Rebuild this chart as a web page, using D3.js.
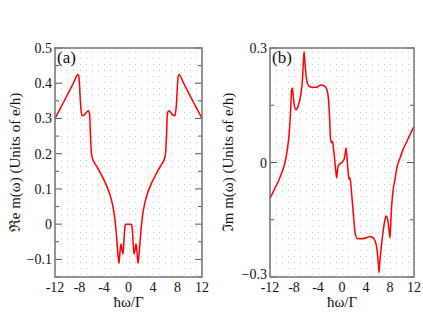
<!DOCTYPE html>
<html>
<head>
<meta charset="utf-8">
<script src="https://cdn.jsdelivr.net/npm/d3@7"></script>
<style>
  body { margin: 0; background: #fff; }
  svg text { font-family: "Liberation Serif", "Times New Roman", "DejaVu Serif", serif; fill: #111; }
  .curve { fill: none; stroke: #ff0000; stroke-width: 1.5; }
  .grid line { stroke: #c8c8c8; stroke-width: 1; stroke-dasharray: 1,5; }
  .frame { fill: none; stroke: #7a7a7a; stroke-width: 1.6; }
  .tick { stroke: #555; stroke-width: 1; }
</style>
</head>
<body>
<div id="chart"></div>
<script>
// panel (a): real part
var aX = [-12, -11, -10, -9, -8.25, -8.1, -7.8, -7.6, -7.3, -6.9, -6.55, -6.35, -6.2, -6.05, -5.85,
  -5.4, -4.8, -4.2, -3.6, -3.0, -2.6, -2.3, -2.0, -1.7, -1.55, -1.35, -1.22, -1.05, -0.9, -0.75,
  -0.6, -0.45, 0,
  0.45, 0.6, 0.75, 0.9, 1.05, 1.22, 1.35, 1.55, 1.7, 2.0, 2.3, 2.6, 3.0, 3.6, 4.2, 4.8, 5.4,
  5.85, 6.05, 6.2, 6.35, 6.55, 6.9, 7.3, 7.6, 7.8, 8.1, 8.25, 9, 10, 11, 12];
var aY = [0.300, 0.333, 0.366, 0.400, 0.425, 0.418, 0.335, 0.308, 0.309, 0.317, 0.322, 0.312, 0.25, 0.2, 0.185,
  0.170, 0.152, 0.132, 0.110, 0.082, 0.055, 0.025, -0.025, -0.09, -0.111, -0.07, -0.056, -0.075, -0.085, -0.05,
  -0.01, 0.0, 0.0,
  0.0, -0.01, -0.05, -0.085, -0.075, -0.056, -0.07, -0.111, -0.09, -0.025, 0.025, 0.055, 0.082, 0.110, 0.132, 0.152, 0.170,
  0.185, 0.2, 0.25, 0.312, 0.322, 0.317, 0.309, 0.308, 0.335, 0.418, 0.425, 0.400, 0.366, 0.333, 0.300];

// panel (b): imaginary part
var bX = [-12, -11.2, -10.6, -10, -9.5, -9.1, -8.8, -8.55, -8.4, -8.28, -8.1, -7.9, -7.67, -7.3, -6.9,
  -6.6, -6.45, -6.32, -6.2, -5.9, -5.5, -5, -4.3, -3.5, -2.9, -2.5, -2.25, -2.05, -1.9, -1.7,
  -1.55, -1.45, -1.33, -1.15, -1.0, -0.9, -0.75, -0.6, -0.3, -0.05, 0.33, 0.55, 0.67, 0.8, 0.9,
  1.05, 1.2, 1.3, 1.45, 1.6, 1.78, 2.0, 2.17, 2.4, 2.6, 3.2, 4.1, 4.6, 5.0, 5.5,
  5.75, 5.95, 6.1, 6.17, 6.3, 6.45, 6.7, 6.9, 7.1, 7.33, 7.6, 7.8, 8.0, 8.1, 8.28,
  8.5, 8.83, 9.2, 9.67, 10.2, 10.8, 11.4, 12];
var bY = [-0.094, -0.068, -0.049, -0.025, 0.0, 0.035, 0.077, 0.14, 0.19, 0.195, 0.17, 0.145, 0.138, 0.148, 0.175,
  0.215, 0.26, 0.29, 0.265, 0.217, 0.2, 0.197, 0.197, 0.203, 0.2, 0.19, 0.165, 0.11, 0.06, 0.052,
  0.055, 0.04, 0.025, -0.005, -0.027, -0.04, -0.02, -0.008, -0.003, 0.0, 0.008, 0.025, 0.038, 0.02, 0.0,
  -0.03, -0.044, -0.04, -0.053, -0.08, -0.114, -0.155, -0.183, -0.196, -0.2, -0.2, -0.197, -0.194, -0.195, -0.205,
  -0.22, -0.245, -0.275, -0.288, -0.26, -0.236, -0.2, -0.175, -0.155, -0.14, -0.149, -0.17, -0.197, -0.17, -0.114,
  -0.075, -0.044, -0.01, 0.012, 0.035, 0.055, 0.075, 0.095];

var xTicks = [-12, -8, -4, 0, 4, 8, 12];
var aYTicks = [-0.1, 0, 0.1, 0.2, 0.3, 0.4, 0.5];
var aYMinor = [-0.15, -0.05, 0.05, 0.15, 0.25, 0.35, 0.45];
var bYTicks = [-0.3, 0, 0.3];
var bYMinor = [-0.15, 0.15];

var viewBox = {width: 423, height: 327};

var svg = d3.select("#chart")
  .append("svg")
  .attr("width", viewBox.width)
  .attr("height", viewBox.height);

function panel(opt){
  var x = d3.scaleLinear().domain([-12, 12]).range([opt.left, opt.right]);
  var y = d3.scaleLinear().domain(opt.yDomain).range([opt.bottom, opt.top]);
  var g = svg.append("g");

  // dotted grid
  g.append("g").attr("class", "grid")
    .selectAll("line")
    .data(d3.range(-11, 12))
    .enter().append("line")
      .attr("x1", function(d){ return Math.round(x(d)) + 0.5; })
      .attr("x2", function(d){ return Math.round(x(d)) + 0.5; })
      .attr("y1", opt.top + 4)
      .attr("y2", opt.bottom);

  // curve
  var line = d3.line()
    .x(function(d){ return x(d[0]); })
    .y(function(d){ return y(d[1]); })
    .curve(d3.curveMonotoneX);
  g.append("path")
    .attr("class", "curve")
    .attr("d", line(d3.zip(opt.xs, opt.ys)));

  // inward ticks, left and right
  function ticks(vals, len){
    vals.forEach(function(v){
      g.append("line").attr("class", "tick")
        .attr("x1", opt.left).attr("x2", opt.left + len)
        .attr("y1", y(v)).attr("y2", y(v));
      g.append("line").attr("class", "tick")
        .attr("x1", opt.right).attr("x2", opt.right - len)
        .attr("y1", y(v)).attr("y2", y(v));
    });
  }
  ticks(opt.yTicks, 7);
  ticks(opt.yMinor, 4);

  g.append("rect")
    .attr("class", "frame")
    .attr("x", opt.left).attr("y", opt.top)
    .attr("width", opt.right - opt.left)
    .attr("height", opt.bottom - opt.top);

  // tick labels
  g.selectAll(".ylab")
    .data(opt.yTicks)
    .enter().append("text")
      .attr("x", opt.left - 3)
      .attr("y", function(d, i){ return y(d) + (i === 0 && opt.lowShift ? 2 : 5); })
      .attr("text-anchor", "end")
      .style("font-size", "14px")
      .text(function(d){ return d === 0 ? "0" : d3.format("")(d); });

  g.selectAll(".xlab")
    .data(xTicks)
    .enter().append("text")
      .attr("x", function(d){ return x(d); })
      .attr("y", opt.bottom + 15)
      .attr("text-anchor", "middle")
      .style("font-size", "14px")
      .text(function(d){ return d; });

  g.append("text")
    .attr("x", (opt.left + opt.right) / 2)
    .attr("y", opt.bottom + 30)
    .attr("text-anchor", "middle")
    .style("font-size", "15px")
    .text("\u0127\u03c9/\u0393");

  g.append("text")
    .attr("transform", "translate(" + opt.labelX + "," + ((opt.top + opt.bottom) / 2) + ") rotate(-90)")
    .attr("text-anchor", "middle")
    .style("font-size", "15px")
    .text(opt.yLabel);

  g.append("text")
    .attr("x", opt.left + 2)
    .attr("y", opt.top + 15)
    .style("font-size", "17px")
    .text(opt.tag);
}

panel({left: 55, right: 202, top: 48, bottom: 277, yDomain: [-0.15, 0.5],
  xs: aX, ys: aY, yTicks: aYTicks, yMinor: aYMinor, lowShift: false,
  yLabel: "\u211ce m(\u03c9) (Units of e/h)", labelX: 20, tag: "(a)"});

panel({left: 270, right: 414, top: 48, bottom: 277, yDomain: [-0.3, 0.3],
  xs: bX, ys: bY, yTicks: bYTicks, yMinor: bYMinor, lowShift: true,
  yLabel: "\u2111m m(\u03c9) (Units of e/h)", labelX: 233, tag: "(b)"});
</script>
</body>
</html>
